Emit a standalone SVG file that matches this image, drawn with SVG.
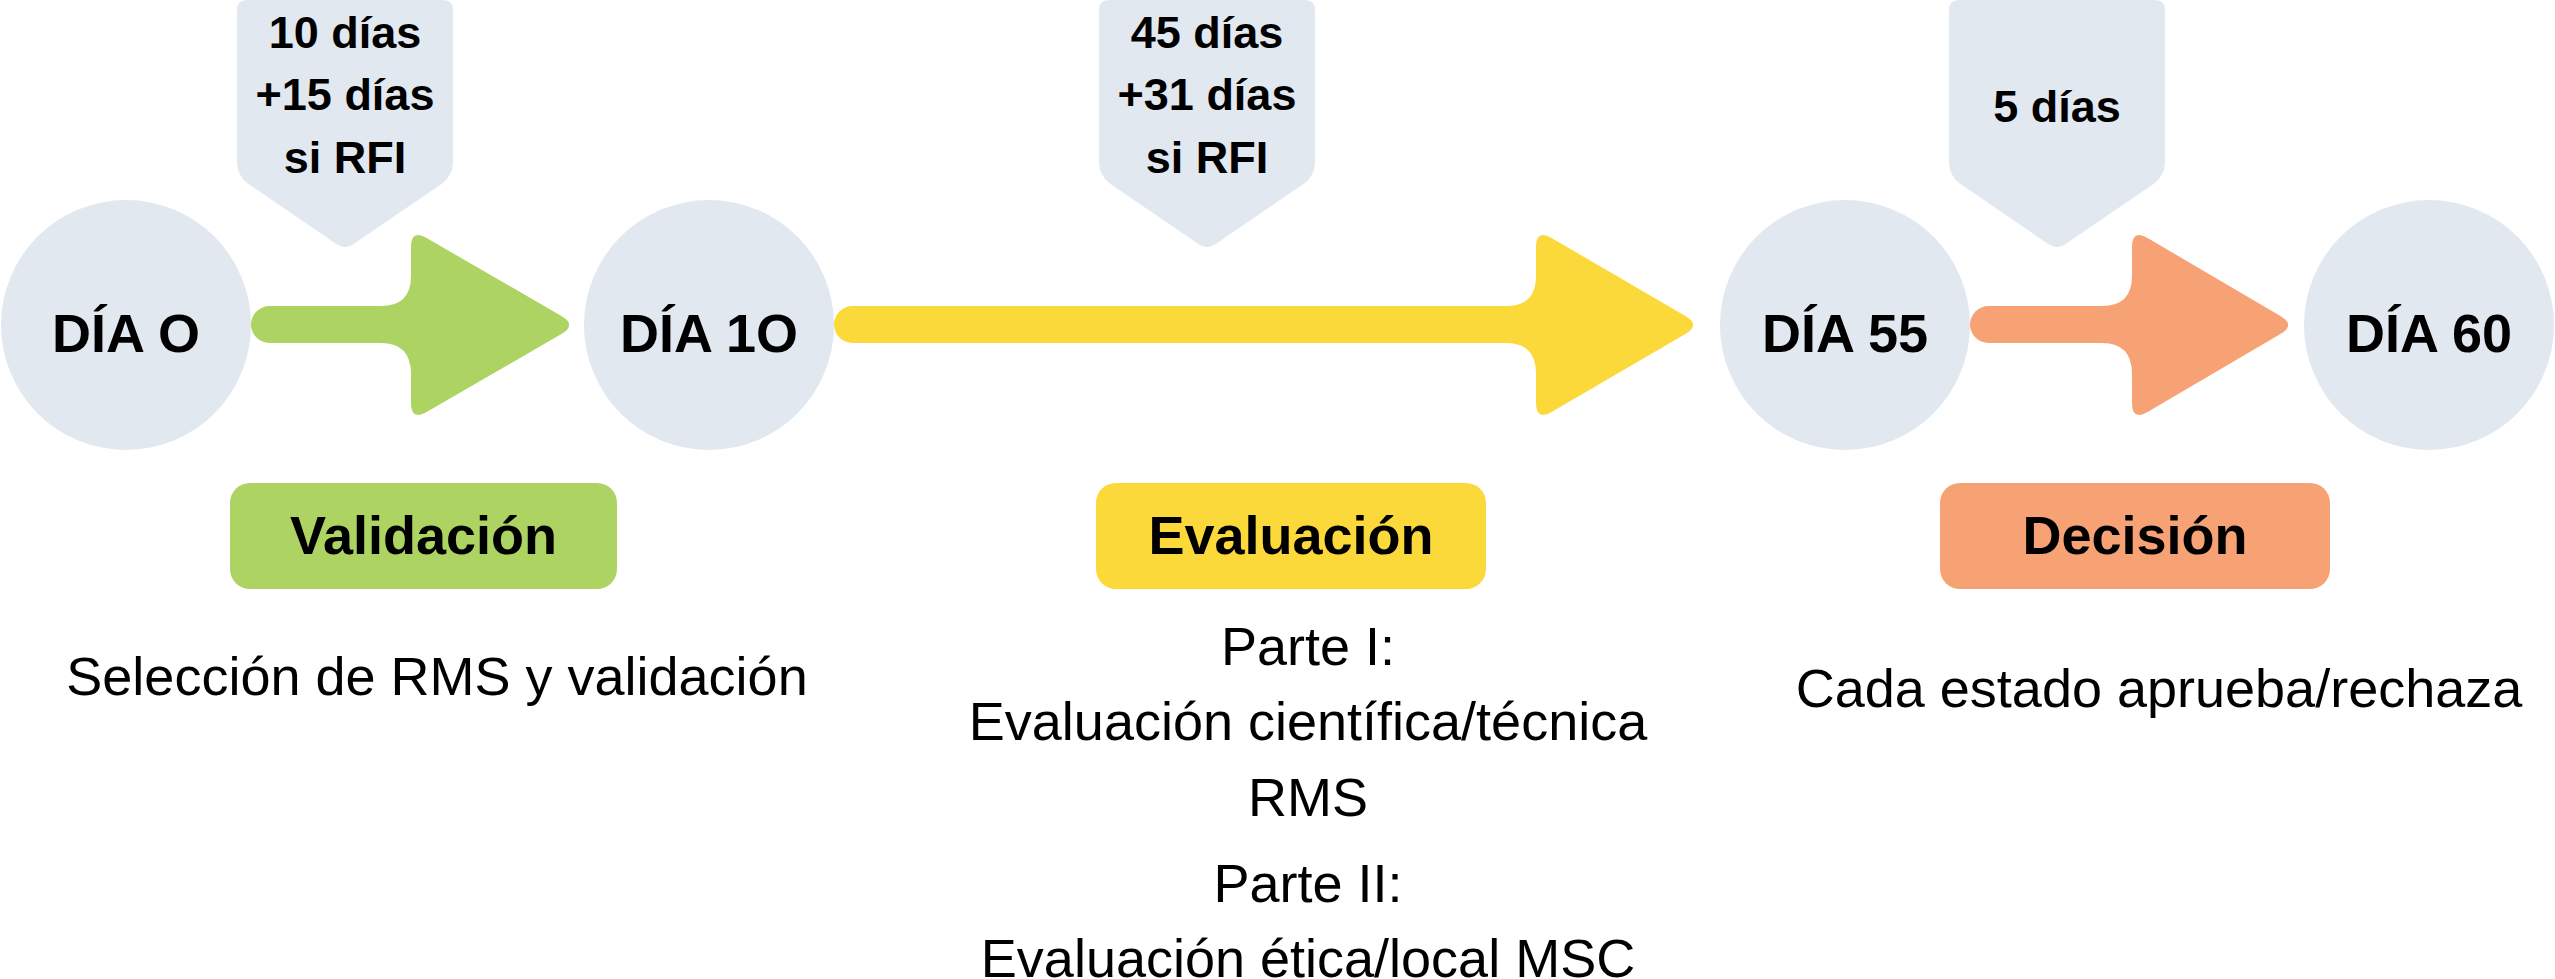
<svg xmlns="http://www.w3.org/2000/svg" width="2555" height="979" viewBox="0 0 2555 979">
<style>
  .day { fill: #E2E8F0; }
  .callout { fill: #E2E8F0; }
  .green { fill: #ADD463; }
  .yellow { fill: #FCD93B; }
  .orange { fill: #F7A275; }
  text { font-family: "Liberation Sans", Arial, sans-serif; fill: #000; text-anchor: middle; }
  .big { font-size: 54px; font-weight: bold; }
  .cal { font-size: 45px; font-weight: bold; }
  .desc { font-size: 54px; }
</style>
<rect width="2555" height="979" fill="#FFFFFF"/>

<g id="connectors">
  <path id="arrow-validacion" class="green" d="M269.5 306 L381 306 Q411 306 411 276 L411 247 Q411 229 426.6 238 L561.4 316 Q577 325 561.4 334 L426.6 412 Q411 421 411 403 L411 374 Q411 343 381 343 L269.5 343 A18.5 18.5 0 0 1 269.5 306 Z"/>
  <path id="arrow-evaluacion" class="yellow" d="M852.5 306 L1506 306 Q1536 306 1536 276 L1536 247 Q1536 229 1551.6 238 L1685.4 316 Q1701 325 1685.4 334 L1551.6 412 Q1536 421 1536 403 L1536 374 Q1536 343 1506 343 L852.5 343 A18.5 18.5 0 0 1 852.5 306 Z"/>
  <path id="arrow-decision" class="orange" d="M1988.5 306 L2102 306 Q2132 306 2132 276 L2132 247 Q2132 229 2147.6 238 L2280.4 316 Q2296 325 2280.4 334 L2147.6 412 Q2132 421 2132 403 L2132 374 Q2132 343 2102 343 L1988.5 343 A18.5 18.5 0 0 1 1988.5 306 Z"/>
</g>

<g id="day0">
  <circle class="day" cx="126" cy="325" r="125"/>
  <text class="big" x="126" y="352">DÍA O</text>
</g>
<g id="day10">
  <circle class="day" cx="709" cy="325" r="125"/>
  <text class="big" x="709" y="352">DÍA 1O</text>
</g>
<g id="day55">
  <circle class="day" cx="1845" cy="325" r="125"/>
  <text class="big" x="1845" y="352">DÍA 55</text>
</g>
<g id="day60">
  <circle class="day" cx="2429" cy="325" r="125"/>
  <text class="big" x="2429" y="352">DÍA 60</text>
</g>

<g id="callout-validacion">
  <path class="callout" d="M247 0 L443 0 Q453 0 453 10 L453 162 Q453 176 441.5 183.9 L353.25 244.35 Q345 250 336.75 244.35 L248.5 183.9 Q237 176 237 162 L237 10 Q237 0 247 0 Z"/>
  <text class="cal" x="345" y="48">10 días</text>
  <text class="cal" x="345" y="110">+15 días</text>
  <text class="cal" x="345" y="173">si RFI</text>
</g>
<g id="callout-evaluacion">
  <path class="callout" d="M1109 0 L1305 0 Q1315 0 1315 10 L1315 162 Q1315 176 1303.5 183.9 L1215.25 244.35 Q1207 250 1198.75 244.35 L1110.5 183.9 Q1099 176 1099 162 L1099 10 Q1099 0 1109 0 Z"/>
  <text class="cal" x="1207" y="48">45 días</text>
  <text class="cal" x="1207" y="110">+31 días</text>
  <text class="cal" x="1207" y="173">si RFI</text>
</g>
<g id="callout-decision">
  <path class="callout" d="M1959 0 L2155 0 Q2165 0 2165 10 L2165 162 Q2165 176 2153.5 183.9 L2065.25 244.35 Q2057 250 2048.75 244.35 L1960.5 183.9 Q1949 176 1949 162 L1949 10 Q1949 0 1959 0 Z"/>
  <text class="cal" x="2057" y="122">5 días</text>
</g>

<g id="phase-validacion">
  <rect class="green" x="230" y="483" width="387" height="106" rx="20"/>
  <text class="big" x="423.5" y="554">Validación</text>
</g>
<g id="phase-evaluacion">
  <rect class="yellow" x="1096" y="483" width="390" height="106" rx="20"/>
  <text class="big" x="1291" y="554">Evaluación</text>
</g>
<g id="phase-decision">
  <rect class="orange" x="1940" y="483" width="390" height="106" rx="20"/>
  <text class="big" x="2135" y="554">Decisión</text>
</g>

<g id="desc-validacion">
  <text class="desc" x="437" y="695">Selección de RMS y validación</text>
</g>
<g id="desc-evaluacion">
  <text class="desc" x="1308" y="665">Parte I:</text>
  <text class="desc" x="1308" y="740">Evaluación científica/técnica</text>
  <text class="desc" x="1308" y="816">RMS</text>
  <text class="desc" x="1308" y="902">Parte II:</text>
  <text class="desc" x="1308" y="977">Evaluación ética/local MSC</text>
</g>
<g id="desc-decision">
  <text class="desc" x="2159" y="707">Cada estado aprueba/rechaza</text>
</g>
</svg>
